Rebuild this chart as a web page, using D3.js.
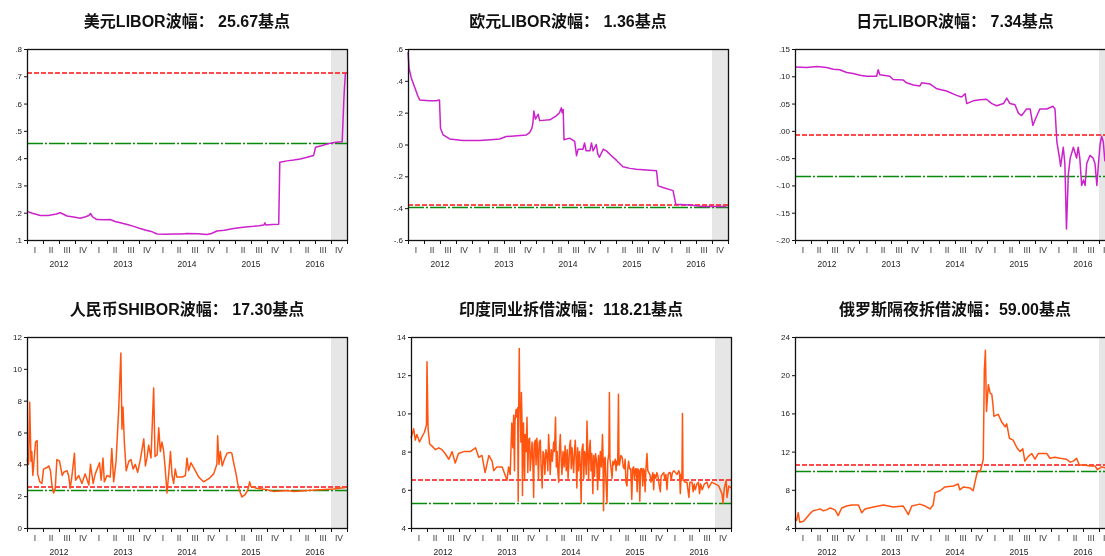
<!DOCTYPE html>
<html>
<head>
<meta charset="utf-8">
<script src="https://cdn.jsdelivr.net/npm/d3@7"></script>
<style>
  body { margin: 0; background: #fff; }
  #wrap { will-change: transform; width: 1105px; height: 556px; overflow: hidden; }
  svg { display: block; }
</style>
</head>
<body>
<div id="wrap"><svg id="chart" width="1105" height="556"></svg></div>
<script>
// x = months since Jan 2012, y = rate (%)
const usdLibor = [[0,.205],[1,.198],[2.5,.19],[4,.19],[5.5,.195],[6.25,.20],[7.5,.188],[9,.183],[10,.18],[11,.185],[11.6,.19],[11.9,.197],[12.3,.185],[13.1,.175],[14.5,.174],[15.6,.175],[16.5,.168],[17.5,.163],[18.8,.157],[20,.15],[21.2,.142],[22.5,.135],[23.5,.13],[24.4,.122],[26,.121],[27.5,.122],[29,.122],[30,.124],[32,.123],[33.75,.12],[34.6,.124],[35.6,.133],[37,.136],[38.75,.142],[40.5,.147],[42.5,.15],[43.5,.152],[44.4,.155],[44.6,.163],[44.75,.155],[46,.157],[47.2,.158],[47.4,.385],[48.75,.39],[50,.393],[51.25,.397],[52.5,.403],[53.75,.41],[54.1,.44],[55.5,.447],[56.9,.455],[58,.458],[59.1,.46],[59.4,.61],[59.5,.65],[59.7,.71]];

const eurLibor = [[0,.58],[0.2,.48],[0.6,.42],[1.25,.36],[1.9,.30],[2.2,.28],[4,.275],[5.3,.275],[5.9,.28],[6.1,.10],[6.6,.06],[7.8,.035],[10.3,.025],[13.4,.025],[15.5,.03],[17.2,.035],[18.4,.05],[20.5,.055],[22.2,.06],[22.8,.075],[23.2,.1],[23.4,.13],[23.6,.21],[23.9,.16],[24.4,.19],[24.7,.15],[26.6,.155],[27.8,.18],[28.4,.2],[28.75,.23],[28.9,.2],[29.1,.22],[29.25,.03],[30.3,.04],[31.25,.02],[31.6,-.07],[31.9,-.03],[32.8,-.03],[33.1,.01],[33.4,-.04],[34.1,-.04],[34.4,.01],[34.7,-.04],[35.3,0],[35.6,-.06],[35.9,-.08],[36.6,-.03],[37.2,-.04],[37.8,-.06],[39.1,-.10],[40.3,-.14],[41.6,-.15],[42.8,-.155],[44.7,-.16],[46.6,-.165],[46.9,-.26],[47.8,-.27],[49.7,-.29],[50.2,-.375],[52.8,-.38],[55.3,-.39],[59.7,-.39]];

const jpyLibor = [[0,.117],[2.2,.116],[4.1,.118],[5.9,.116],[7.2,.113],[8.4,.112],[9.7,.107],[10.9,.105],[12.2,.102],[13.4,.100],[15.3,.100],[15.6,.112],[15.9,.103],[17.8,.10],[18.4,.094],[20.3,.093],[20.9,.088],[22.2,.084],[23.4,.082],[23.75,.088],[25.3,.086],[26.6,.077],[28.4,.073],[30.3,.065],[31.25,.062],[31.9,.068],[32.2,.05],[33.4,.055],[34.7,.057],[35.9,.058],[36.9,.05],[37.8,.046],[39.1,.05],[39.7,.06],[40.3,.05],[41.25,.048],[41.9,.032],[42.5,.028],[43.4,.04],[44.1,.04],[44.6,.01],[45,.02],[45.9,.04],[47.2,.04],[48.4,.045],[48.75,.04],[49.1,-.02],[49.6,-.05],[49.8,-.065],[50.3,-.03],[50.6,-.06],[50.9,-.18],[51.25,-.08],[51.6,-.05],[52.2,-.03],[52.8,-.05],[53.1,-.03],[53.4,-.05],[53.75,-.10],[54.1,-.09],[54.4,-.10],[54.7,-.06],[55.3,-.045],[55.9,-.05],[56.25,-.06],[56.6,-.10],[56.9,-.06],[57.2,-.025],[57.5,-.01],[57.8,-.02],[58.1,-.055],[58.4,-.05],[59.1,-.04]];

const cnyShibor = [[0,4.3],[0.3,4.0],[0.5,7.9],[0.75,4.2],[0.9,4.8],[1.1,3.3],[1.6,5.4],[1.9,5.5],[2.0,3.4],[2.4,2.9],[2.8,2.8],[3.1,3.7],[3.75,3.8],[4.1,3.9],[4.4,3.6],[4.7,2.6],[5.0,2.2],[5.3,2.5],[5.6,4.3],[6.1,4.2],[6.6,3.3],[6.9,3.5],[7.5,3.6],[7.8,3.3],[8.1,2.5],[8.4,3.2],[8.9,4.7],[9.1,3.0],[9.7,3.3],[10.3,2.8],[10.9,3.4],[11.6,2.7],[11.9,4.0],[12.4,2.8],[12.8,3.4],[13.6,4.1],[13.9,3.0],[14.25,4.4],[14.5,2.9],[15,3.3],[15.6,3.2],[15.9,5.0],[16.25,2.9],[16.7,4.2],[17.2,7.5],[17.6,11.0],[17.8,6.2],[18.0,7.6],[18.25,5.4],[18.6,3.6],[19.1,4.2],[19.5,4.3],[19.9,3.7],[20.3,4.0],[20.75,3.5],[21.25,4.3],[21.9,5.6],[22.2,3.9],[22.5,4.4],[22.8,5.2],[23.25,4.4],[23.75,8.8],[24.0,4.5],[24.4,4.6],[24.7,6.3],[25,4.8],[25.3,5.4],[25.6,4.9],[25.9,3.8],[26.25,2.2],[26.6,3.5],[26.9,4.8],[27.2,3.3],[27.5,2.8],[27.8,3.7],[28.1,3.2],[29.1,3.2],[29.7,3.3],[30,4.4],[30.3,3.6],[30.75,4.1],[31.25,3.8],[32.2,3.2],[33.1,2.9],[34.1,3.1],[35,3.4],[35.6,4.0],[35.75,5.8],[36,4.0],[36.25,4.8],[36.6,3.9],[37,4.3],[37.5,4.7],[38.1,4.75],[38.4,4.7],[38.75,4.1],[39.2,3.4],[39.5,2.8],[39.9,2.3],[40.3,1.95],[40.9,2.1],[41.4,2.4],[41.75,2.9],[42,2.6],[43.1,2.5],[45,2.4],[46.25,2.3],[48.75,2.35],[50,2.3],[52.5,2.35],[55,2.4],[57.5,2.45],[59.7,2.55]];

const inrCall = [[0,8.7],[0.5,9.2],[0.8,8.6],[1.1,8.9],[1.6,8.5],[2.1,8.8],[2.5,9.0],[2.9,9.4],[3.0,12.7],[3.2,9.2],[3.5,8.4],[3.9,8.3],[4.6,8.1],[5.2,8.2],[5.8,8.1],[6.4,7.9],[7.1,7.6],[7.7,8.0],[8.3,7.4],[8.9,7.9],[9.9,8.0],[11.1,8.0],[12.1,8.2],[12.7,7.7],[13.3,7.8],[13.9,6.9],[14.6,7.8],[15.2,7.5],[15.5,7.0],[16.1,7.2],[17.1,7.2],
  [18,6.5],[18.3,7.2],[18.6,6.8],[18.9,9.5],[19.1,8.2],[19.25,9.9],[19.4,7.0],[19.5,9.6],[19.7,10.2],[19.85,9.8],[20,10.3],[20.1,5.4],[20.2,10.2],[20.3,13.4],[20.4,10.3],[20.5,10.2],[20.6,8.5],[20.7,11.1],[20.8,9.8],[20.9,5.7],[21.0,9.4],[21.1,9.5],[21.2,7.5],[21.3,6.5],[21.4,8.9],[21.6,8.0],[21.75,9.8],[21.9,6.9],[22.05,8.6],[22.25,8.7],[22.35,7.0],[22.5,7.6],[22.7,8.5],[22.85,7.4],[23,5.6],[23.1,8.4],[23.3,8.6],[23.45,7.3],[23.6,8.7],[23.75,8.0],[23.9,6.5],[24.05,8.5],[24.25,8.6],[24.4,7.2],[24.6,6.1],[24.75,8.0],[24.9,7.9],[25.1,6.8],[25.3,8.1],[25.5,7.8],[25.65,7.0],[25.8,8.9],[25.95,8.0],[26.1,6.8],[26.3,8.1],[26.5,7.5],[26.75,8.5],[26.9,8.0],[27.1,9.8],[27.25,7.2],[27.4,8.0],[27.55,6.9],[27.7,6.4],[27.85,8.2],[28,8.9],[28.15,7.6],[28.3,6.8],[28.5,8.0],[28.7,7.2],[28.9,8.3],[29.1,7.0],[29.3,8.1],[29.45,6.6],[29.6,7.4],[29.75,8.3],[29.9,8.6],[30.05,7.1],[30.2,8.2],[30.35,7.5],[30.5,6.9],[30.65,8.0],[30.8,8.6],[30.95,7.6],[31.1,6.1],[31.25,8.2],[31.4,7.0],[31.6,8.0],[31.75,7.2],[31.9,5.3],[32.05,8.1],[32.25,8.4],[32.4,6.6],[32.55,8.0],[32.7,7.8],[32.85,6.8],[33,9.6],[33.15,7.9],[33.3,6.5],[33.45,8.1],[33.6,8.6],[33.75,7.0],[33.9,7.9],[34.1,5.8],[34.25,7.8],[34.4,6.7],[34.6,7.9],[34.8,7.5],[35,6.0],[35.15,7.8],[35.3,6.5],[35.5,8.0],[35.7,7.2],[35.9,8.9],[36.0,7.8],[36.1,4.9],[36.25,7.6],[36.4,7.7],[36.55,6.5],[36.75,5.3],[36.9,7.5],[37.1,7.9],[37.2,11.1],[37.3,7.6],[37.4,7.4],[37.55,7.0],[37.7,6.6],[37.85,7.5],[38,7.3],[38.3,7.6],[38.45,7.0],[38.6,7.5],[38.75,7.3],[38.9,11.0],[39.0,7.4],[39.1,7.3],[39.35,7.8],[39.6,7.7],[39.8,7.2],[40,7.1],[40.15,7.6],[40.3,6.4],[40.5,6.2],[40.65,7.1],[40.8,7.5],[41,7.1],[41.2,7.1],[41.4,5.5],[41.55,7.1],[41.75,7.2],[41.9,6.5],[42.1,7.1],[42.25,7.1],[42.4,5.9],[42.55,7.1],[42.75,7.0],[42.9,5.4],[43.05,7.1],[43.3,7.1],[43.45,6.2],[43.6,7.1],[43.75,7.0],[43.9,5.9],[44.05,7.1],[44.25,7.9],[44.4,7.0],[44.6,6.9],[44.8,6.8],[45,6.4],[45.2,6.7],[45.35,6.9],[45.5,6.0],[45.65,6.8],[45.9,6.6],[46.1,6.9],[46.3,6.7],[46.5,6.3],[46.75,5.9],[46.9,6.7],[47.1,6.8],[47.4,6.9],[47.6,6.5],[47.8,6.8],[48,6.0],[48.2,6.8],[48.4,6.9],[48.6,6.9],[48.8,6.5],[49,6.9],[49.3,7.0],[49.6,6.9],[49.9,6.8],[50.2,7.0],[50.35,6.9],[50.5,5.8],[50.65,6.8],[50.8,6.6],[50.9,10.0],[51.0,6.5],
  [51.1,6.5],[51.4,6.4],[51.75,6.4],[52.1,5.6],[52.3,6.4],[52.7,6.4],[52.9,5.9],[53.1,6.3],[53.3,6.0],[53.6,6.3],[53.9,6.4],[54.1,5.8],[54.3,6.3],[54.6,6.0],[55,6.3],[55.5,6.4],[55.8,6.1],[56.4,6.4],[57.1,6.3],[57.7,6.2],[58.3,5.8],[58.5,5.3],[58.75,6.1],[59.1,6.5],[59.25,5.6],[59.6,6.2],[60,6.1]];

const rubOvernight = [[0,5.0],[0.3,4.8],[0.6,5.6],[0.9,4.6],[1.6,4.7],[2.2,5.1],[2.8,5.5],[3.4,5.8],[4.1,5.9],[4.7,6.0],[5.3,5.8],[5.9,5.9],[6.6,6.1],[7.5,5.9],[8.1,5.3],[8.75,6.1],[9.7,6.3],[10.6,6.4],[11.9,6.4],[12.5,5.6],[13.1,6.0],[14.7,6.2],[16.6,6.4],[18.4,6.2],[20.3,6.3],[21.25,5.4],[21.9,6.3],[23.4,6.5],[24.4,6.3],[25.3,6.0],[25.9,6.4],[26.25,7.7],[27.2,7.9],[28.1,8.3],[29.7,8.4],[30.6,8.6],[30.9,8.0],[31.6,8.3],[32.8,8.2],[33.4,7.9],[33.75,8.8],[34.1,9.7],[34.4,10.0],[34.7,9.9],[35,10.5],[35.3,11.2],[35.5,20.5],[35.7,22.6],[35.9,16.2],[36.25,19.0],[36.6,18.1],[36.9,18.0],[37.1,17.0],[37.3,15.7],[38.1,15.9],[38.75,15.1],[39.4,14.6],[39.7,14.9],[40.2,13.4],[40.9,13.2],[41.6,12.4],[42.2,12.0],[42.7,12.3],[43.1,11.0],[43.75,11.5],[44.4,11.8],[45,11.2],[45.6,11.8],[47.2,11.8],[47.8,11.3],[48.75,11.4],[49.7,11.3],[50.9,11.2],[51.6,10.9],[52.2,11.0],[52.8,11.3],[53.3,10.6],[54.1,10.6],[55.3,10.5],[56.25,10.5],[56.7,10.1],[57.5,10.4],[58.1,10.3],[59.1,10.4]];

const titles = ['美元LIBOR波幅：  25.67基点', '欧元LIBOR波幅：  1.36基点', '日元LIBOR波幅：  7.34基点',
  '人民币SHIBOR波幅：  17.30基点', '印度同业拆借波幅：118.21基点', '俄罗斯隔夜拆借波幅：59.00基点'];
const bandUpper = [0.711, -0.382, -0.0085, 2.55, 6.51, 10.56];
const bandLower = [0.455, -0.3956, -0.0819, 2.377, 5.328, 9.97];
const yTicks = [
  [.1, .2, .3, .4, .5, .6, .7, .8],
  [-.6, -.4, -.2, 0, .2, .4, .6],
  [-.20, -.15, -.10, -.05, 0, .05, .10, .15],
  [0, 2, 4, 6, 8, 10, 12],
  [4, 6, 8, 10, 12, 14],
  [4, 8, 12, 16, 20, 24]
];
const yDigits = [1, 1, 2, 0, 0, 0];
const quarterLabels = ['I', 'II', 'III', 'IV'];
const yearLabels = ['2012', '2013', '2014', '2015', '2016'];
const series = [usdLibor, eurLibor, jpyLibor, cnyShibor, inrCall, rubOvernight];

const lefts = [27, 408, 795, 27, 411, 795];
const tops = [49, 49, 49, 337, 337, 337];
const plotW = 320, plotH = 191;
const lineColors = ['#cc22cc', '#cc22cc', '#cc22cc', '#ff5511', '#ff5511', '#ff5511'];
const snap = v => Math.round(v) + 0.5;

const svg = d3.select('#chart');

series.forEach((data, i) => {
  const g = svg.append('g').attr('transform', `translate(${lefts[i]},${tops[i]})`);
  const x = d3.scaleLinear().domain([0, 60]).range([0, plotW]);
  const ticks = yTicks[i];
  const y = d3.scaleLinear().domain([ticks[0], ticks[ticks.length - 1]]).range([plotH, 0]);
  // EViews style labels: ".8", "-.05", ".00"
  const fmt = v => {
    const s = d3.format('.' + yDigits[i] + 'f')(v).replace('\u2212', '-');
    return yDigits[i] > 0 ? s.replace(/^(-?)0\./, '$1.') : s;
  };

  // title
  g.append('text')
    .attr('x', plotW / 2)
    .attr('y', -22)
    .attr('text-anchor', 'middle')
    .style('font-family', '"Liberation Sans", Arial, "Noto Sans CJK SC", sans-serif')
    .style('font-weight', 'bold')
    .style('font-size', '16px')
    .style('fill', '#111')
    .text(titles[i]);

  // shaded last quarter
  g.append('rect')
    .attr('x', x(57)).attr('y', 0)
    .attr('width', x(60) - x(57)).attr('height', plotH)
    .style('fill', '#e6e6e6');

  // band lines
  g.append('line')
    .attr('x1', 0).attr('x2', plotW)
    .attr('y1', Math.round(y(bandUpper[i]))).attr('y2', Math.round(y(bandUpper[i])))
    .style('stroke', '#ff1010').style('stroke-width', 1.6)
    .style('stroke-dasharray', '5,2');
  g.append('line')
    .attr('x1', 0).attr('x2', plotW)
    .attr('y1', snap(y(bandLower[i]))).attr('y2', snap(y(bandLower[i])))
    .style('stroke', '#0a8a0a').style('stroke-width', 1.5)
    .style('stroke-dasharray', '16,2,2,2');

  // series
  const line = d3.line().x(d => x(d[0])).y(d => y(d[1]));
  g.append('path')
    .datum(data)
    .attr('d', line)
    .style('fill', 'none')
    .style('stroke', lineColors[i])
    .style('stroke-width', 1.5)
    .style('stroke-linejoin', 'round');

  // frame
  g.append('rect')
    .attr('x', 0.5).attr('y', 0.5).attr('width', plotW).attr('height', plotH)
    .style('fill', 'none').style('stroke', '#111').style('stroke-width', 1.3);

  // y axis
  const yAxis = d3.axisLeft(y).tickValues(ticks).tickFormat(fmt).tickSize(3).tickPadding(2);
  const ya = g.append('g').call(yAxis);
  ya.select('.domain').remove();
  ya.selectAll('text').style('font-family', '"Liberation Sans", Arial, sans-serif').style('font-size', '8px').style('fill', '#222');
  ya.selectAll('line').style('stroke', '#111');

  // x axis: quarter ticks
  const xa = g.append('g').attr('transform', `translate(0,${plotH})`)
    .call(d3.axisBottom(x).tickValues(d3.range(0, 61, 3)).tickSize(4).tickFormat(''));
  xa.select('.domain').remove();
  xa.selectAll('line').style('stroke', '#111');

  const qPos = d3.range(0, 20);
  g.selectAll('.qlab')
    .data(qPos)
    .enter()
    .append('text')
    .attr('class', 'qlab')
    .attr('x', d => x(d * 3 + 1.5))
    .attr('y', plotH + 13)
    .attr('text-anchor', 'middle')
    .style('font-family', '"Liberation Sans", Arial, sans-serif')
    .style('font-size', '8.5px')
    .style('fill', '#333')
    .text(d => quarterLabels[d % 4]);

  g.selectAll('.ylab')
    .data(yearLabels)
    .enter()
    .append('text')
    .attr('class', 'ylab')
    .attr('x', (d, k) => x(k * 12 + 6))
    .attr('y', plotH + 27)
    .attr('text-anchor', 'middle')
    .style('font-family', '"Liberation Sans", Arial, sans-serif')
    .style('font-size', '8.5px')
    .style('fill', '#222')
    .text(d => d);
});
</script>
</body>
</html>
